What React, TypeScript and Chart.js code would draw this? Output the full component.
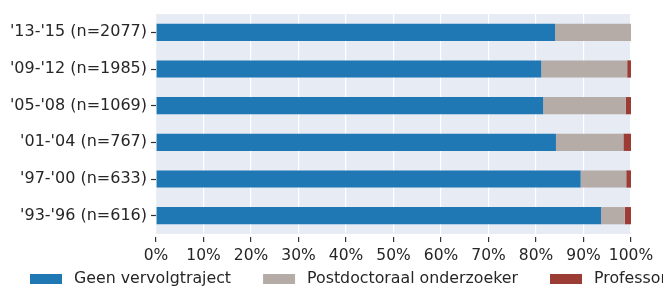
import React, { useEffect, useRef } from "react";
import { Chart, registerables } from "chart.js";

Chart.register(...registerables);

const categories = [
  "'13-'15 (n=2077)",
  "'09-'12 (n=1985)",
  "'05-'08 (n=1069)",
  "'01-'04 (n=767)",
  "'97-'00 (n=633)",
  "'93-'96 (n=616)",
];
const geenVervolgtraject = [84.0, 81.1, 81.5, 84.2, 89.4, 93.7];
const postdoctoraal = [16.0, 18.1, 17.4, 14.2, 9.6, 5.0];
const professor = [0.0, 0.8, 1.1, 1.6, 1.0, 1.3];
const seriesNames = ["Geen vervolgtraject", "Postdoctoraal onderzoeker", "Professor"];
const seriesColors = ["#1f77b4", "#b6aca7", "#9c3d35"];
const xTicks = [0, 10, 20, 30, 40, 50, 60, 70, 80, 90, 100];

const FONT = "DejaVu Sans";
const TEXT = "#262626";

const bgPlugin = {
  id: "plotBg",
  beforeDraw(chart: any) {
    const { ctx, chartArea } = chart;
    ctx.save();
    ctx.fillStyle = "#e6ebf4";
    ctx.fillRect(chartArea.left, chartArea.top, chartArea.right - chartArea.left, chartArea.bottom - chartArea.top);
    ctx.restore();
  },
};

const legendPlugin = {
  id: "customLegend",
  afterDraw(chart: any) {
    const { ctx } = chart;
    ctx.save();
    ctx.font = `15.8px "${FONT}"`;
    ctx.textBaseline = "middle";
    ctx.textAlign = "left";
    let x = 30;
    const cy = 279;
    chart.data.datasets.forEach((ds: any) => {
      ctx.fillStyle = ds.backgroundColor;
      ctx.fillRect(x, cy - 5, 32, 10);
      x += 32 + 12;
      ctx.fillStyle = TEXT;
      ctx.fillText(ds.label, x, cy);
      x += ctx.measureText(ds.label).width + 32;
    });
    ctx.restore();
  },
};

export default function App() {
  const ref = useRef<HTMLCanvasElement>(null);
  useEffect(() => {
    if (!ref.current) return;
    const data = [geenVervolgtraject, postdoctoraal, professor];
    const chart = new Chart(ref.current, {
      type: "bar",
      data: {
        labels: categories,
        datasets: data.map((d, i) => ({
          label: seriesNames[i],
          data: d,
          backgroundColor: seriesColors[i],
          borderWidth: 0,
          barPercentage: 0.47,
          categoryPercentage: 1,
        })),
      },
      options: {
        indexAxis: "y",
        animation: false,
        responsive: true,
        maintainAspectRatio: false,
        layout: { padding: { top: 14, right: 32, left: 0, bottom: 0 } },
        plugins: { legend: { display: false }, tooltip: { enabled: false } },
        scales: {
          x: {
            stacked: true,
            min: 0,
            max: 100,
            afterFit: (s: any) => {
              s.height = 53;
            },
            afterBuildTicks: (s: any) => {
              s.ticks = xTicks.map((v) => ({ value: v }));
            },
            ticks: {
              callback: (v: any) => v + "%",
              color: TEXT,
              font: { family: FONT, size: 15.5 },
              padding: 5,
              maxRotation: 0,
            },
            grid: {
              color: "#ffffff",
              lineWidth: 1.2,
              tickColor: "#333333",
              tickLength: 8,
              tickWidth: 1.2,
              tickBorderDash: [0, 3, 5, 20],
            },
            border: { display: false },
          },
          y: {
            stacked: true,
            afterFit: (s: any) => {
              s.width = 156;
            },
            ticks: {
              color: TEXT,
              font: { family: FONT, size: 16 },
              padding: 4,
            },
            grid: {
              offset: false,
              drawOnChartArea: false,
              tickColor: "#333333",
              tickLength: 5,
              tickWidth: 1.2,
            },
            border: { display: false },
          },
        },
      },
      plugins: [bgPlugin, legendPlugin],
    });
    return () => chart.destroy();
  }, []);
  return (
    <div style={{ position: "fixed", left: 0, top: 0, width: 663, height: 287, background: "#fff" }}>
      <canvas ref={ref} />
    </div>
  );
}
